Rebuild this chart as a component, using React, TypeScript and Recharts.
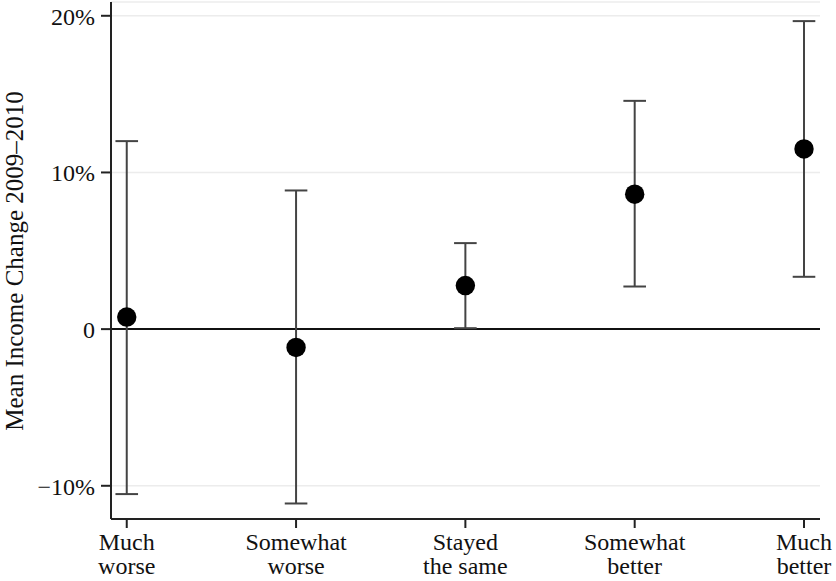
import React from 'react'
import {
  CartesianGrid,
  ComposedChart,
  ErrorBar,
  ReferenceLine,
  Scatter,
  XAxis,
  YAxis,
} from 'recharts'

const categories = ['Much worse', 'Somewhat worse', 'Stayed the same', 'Somewhat better', 'Much better']
const meanChange = [0.77, -1.17, 2.78, 8.61, 11.5]
const ciLow = [-10.53, -11.13, 0.06, 2.72, 3.34]
const ciHigh = [12.0, 8.85, 5.49, 14.57, 19.66]
const yTicks = [-10, 0, 10, 20]
const yTitle = 'Mean Income Change 2009\u20132010'

const data = categories.map((name, i) => ({
  pos: i + 1,
  name,
  mean: meanChange[i],
  err: [meanChange[i] - ciLow[i], ciHigh[i] - meanChange[i]],
}))

const FONT = '"Liberation Serif", "Times New Roman", serif'

function fmtY(v: number) {
  if (v === 0) return '0'
  return `${v < 0 ? '\u2212' : ''}${Math.abs(v)}%`
}

// two-line category labels, split at the first space
function XTick({ x, y, payload }: { x?: number; y?: number; payload?: { value: number } }) {
  const label = categories[(payload?.value ?? 1) - 1] ?? ''
  const cut = label.indexOf(' ')
  return (
    <text x={x} y={y} textAnchor="middle" fill="#111" fontFamily={FONT} fontSize={24}>
      <tspan x={x} dy={20}>{label.slice(0, cut)}</tspan>
      <tspan x={x} dy={24}>{label.slice(cut + 1)}</tspan>
    </text>
  )
}

function YTick({ x, y, payload }: { x?: number; y?: number; payload?: { value: number } }) {
  return (
    <text x={x} y={(y ?? 0) + 9} textAnchor="end" fill="#111" fontFamily={FONT} fontSize={24}>
      {fmtY(payload?.value ?? 0)}
    </text>
  )
}

function YTitle() {
  const cx = 23
  const cy = 261
  return (
    <text x={cx} y={cy} transform={`rotate(-90, ${cx}, ${cy})`} textAnchor="middle" fill="#111" fontFamily={FONT} fontSize={25}>
      {yTitle}
    </text>
  )
}

function Dot({ cx, cy }: { cx?: number; cy?: number }) {
  return <circle cx={cx} cy={cy} r={9.7} fill="#000" />
}

export default function App() {
  return (
    <div style={{ position: 'absolute', left: 0, top: 0, width: 836, height: 581, background: '#fff' }}>
      <ComposedChart width={836} height={581} data={data} margin={{ top: 2, right: 16, bottom: 0, left: 0 }}>
        <CartesianGrid vertical={false} stroke="#ececec" strokeWidth={1.5} />
        <XAxis
          dataKey="pos"
          type="number"
          domain={[0.907, 5.0945]}
          ticks={[1, 2, 3, 4, 5]}
          height={62}
          tickSize={9}
          tickMargin={2}
          stroke="#222"
          strokeWidth={2}
          tick={<XTick />}
          allowDataOverflow
        />
        <YAxis
          type="number"
          domain={[-12.12, 20.88]}
          ticks={yTicks}
          width={111}
          tickSize={10}
          tickMargin={6}
          stroke="#222"
          strokeWidth={2}
          tick={<YTick />}
          allowDataOverflow
          label={<YTitle />}
        />
        <ReferenceLine y={0} stroke="#111" strokeWidth={2} />
        <Scatter dataKey="mean" shape={<Dot />} isAnimationActive={false}>
          <ErrorBar dataKey="err" width={11.3} stroke="#444" strokeWidth={2} direction="y" />
        </Scatter>
      </ComposedChart>
    </div>
  )
}
